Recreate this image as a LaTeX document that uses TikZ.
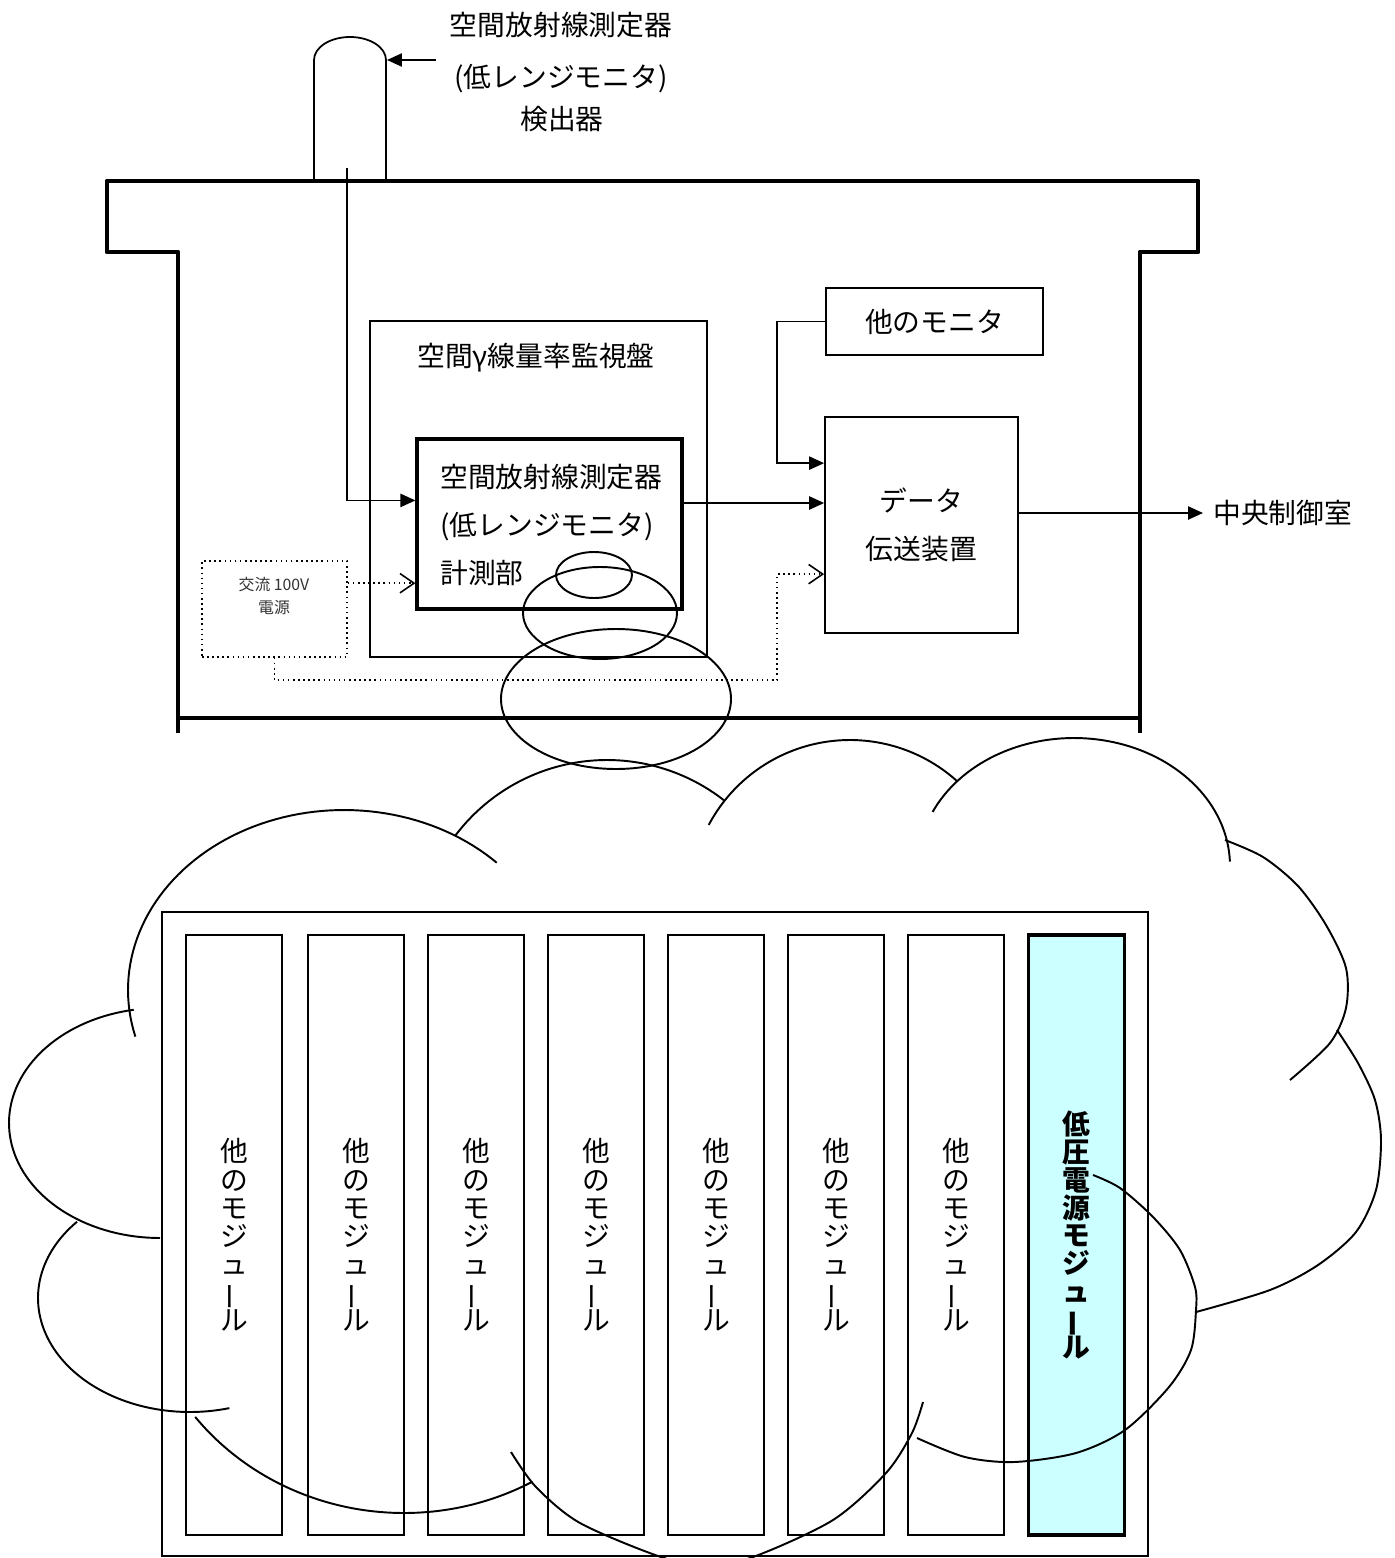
\documentclass[tikz,border=0pt]{standalone}
\usepackage{fontspec}
\setmainfont{Noto Sans CJK JP}
\usepackage{graphicx}
\usetikzlibrary{arrows.meta,calc}
\definecolor{lvcyan}{HTML}{CCFFFF}
\newcommand{\vbar}{{\smash{\rotatebox[origin=c]{90}{ー}}}}
\newcommand{\cloudarc}[6]{\draw[cloudln] plot[domain=#5:#6, samples=72, variable=\t] ({#1+#3*cos(\t)},{#2+#4*sin(\t)});}
\tikzset{
  lnthin/.style={line width=1pt},
  wall/.style={line width=2.8pt, line join=round},
  boxthin/.style={draw, line width=1pt, inner sep=0pt},
  boxthick/.style={draw, line width=1.8pt, inner sep=0pt},
  dotbox/.style={draw, dotted, line width=0.9pt, inner sep=0pt},
  dotln/.style={dotted, line width=0.9pt},
  arr/.style={line width=1pt, -{Triangle[length=8.5pt,width=7.5pt]}},
  dotarr/.style={dotln, -{Straight Barb[length=8pt,width=11pt,line width=0.9pt]}},
  cloudln/.style={line width=1.1pt},
  lbl/.style={inner sep=0pt, font=\fontsize{15.8pt}{27.4pt}\selectfont},
  smalllbl/.style={inner sep=0pt, align=center, font=\fontsize{9pt}{13pt}\selectfont, text=black!80},
  rackbox/.style={draw, line width=1.4pt, inner sep=0pt},
  modbox/.style={draw, line width=0.8pt, inner sep=0pt, minimum width=19.2mm, minimum height=120mm,
     align=center, font=\fontsize{15.8pt}{16pt}\selectfont},
  lvbox/.style={modbox, line width=2.2pt, fill=lvcyan, font=\fontsize{15.8pt}{15.9pt}\selectfont\bfseries}
}
\begin{document}
\begin{tikzpicture}[x=0.2mm,y=-0.2mm]
\useasboundingbox (0,0) rectangle (1394,1558);
\clip (0,0) rectangle (1394,1558);

% ---- enclosure ----
\draw[wall] (178,733) -- (178,252) -- (107,252) -- (107,181) -- (1198,181) -- (1198,252) -- (1140,252) -- (1140,733);
\draw[wall] (178,718) -- (1140,718);

% ---- detector ----
\draw[lnthin] (314,181) -- (314,60) arc[start angle=180,end angle=360,x radius=36,y radius=23] -- (386,181);
\coordinate (domeR) at (387,60);
\coordinate (lblarrow) at (436,60);
\draw[arr] (lblarrow) -- (domeR);
\node[lbl] (det1) at (561,25) {空間放射線測定器};
\node[lbl] (det2) at (561,79) {(低レンジモニタ)};
\node[lbl] (det3) at (562,119) {検出器};

% ---- boxes ----
\node[boxthin, minimum width=67.4mm, minimum height=67.2mm] (mon) at (538.5,489) {};
\node[lbl] (monlbl) at (536,358) {空間γ線量率監視盤};
\node[boxthick, minimum width=53mm, minimum height=34mm] (meas) at (549.5,524) {};
\node[lbl, align=left, anchor=west] (meastxt) at (440,525) {空間放射線測定器\\(低レンジモニタ)\\計測部};
\node[dotbox, minimum width=29mm, minimum height=19.2mm] (ac) at (274.5,609) {};
\node[smalllbl] (actxt) at (274,596) {交流 100V\\電源};
\node[boxthin, minimum width=43.4mm, minimum height=13.4mm, font=\fontsize{15.8pt}{27.4pt}\selectfont] (other) at (934.5,321.5) {他のモニタ};
\node[boxthin, minimum width=38.6mm, minimum height=43.2mm, align=center, font=\fontsize{15.8pt}{27.4pt}\selectfont] (data) at (921.5,525) {データ\\伝送装置};
\node[lbl, anchor=west] (ccr) at (1213,513) {中央制御室};

% ---- connectors ----
\coordinate (cabletop) at (347,168);
\draw[arr] (cabletop) |- ($(meas.north west)+(0,63)$);
\draw[arr] (meas.east |- 0,503) -- (data.west |- 0,503);
\draw[arr] (other.west) -- ++(-48,0) |- ($(data.north west)+(0,47)$);
\draw[arr] (data.east |- ccr.west) -- ([xshift=-2mm]ccr.west);
\coordinate (acout) at ($(ac.north east)+(0,23)$);
\draw[dotarr] (acout) -- (acout -| meas.west);
\coordinate (datain) at ($(data.north west)+(0,158)$);
\draw[dotarr] (ac.south) |- ($(datain)+(-47,106)$) |- (datain);

% ---- callout bubbles ----
\draw[cloudln] (594,575) ellipse[x radius=38,y radius=23];
\draw[cloudln] (600,613) ellipse[x radius=77,y radius=46];
\draw[cloudln] (616,699) ellipse[x radius=115,y radius=70];

% ---- rack and modules ----
\node[rackbox, minimum width=197.2mm, minimum height=128.8mm] (rack) at (655,1234) {};
\foreach \i/\x in {1/234,2/356,3/476,4/596,5/716,6/836,7/956}
  \node[modbox] (m\i) at (\x,1235) {他\\の\\モ\\ジ\\ュ\\\vbar\\ル};
\node[lvbox] (lv) at (1076.5,1235) {低\\圧\\電\\源\\モ\\ジ\\ュ\\\vbar\\ル};

% ---- cloud arcs ----
\cloudarc{344}{990}{216}{180}{165}{315}
\cloudarc{607}{950}{190}{190}{217}{308}
\cloudarc{850}{900}{160}{160}{208}{312}
\cloudarc{1074}{866}{156}{128}{205}{358}
\draw[cloudln] plot[smooth] coordinates {(1225,840) (1263,857) (1298,886) (1326,925) (1346,968) (1346,1008) (1330,1043) (1290,1080)};
\draw[cloudln] plot[smooth] coordinates {(1337,1030) (1358,1063) (1375,1100) (1381,1140) (1376,1190) (1356,1232) (1318,1265) (1270,1290) (1196,1312)};
\draw[cloudln] plot[smooth] coordinates {(1093,1175) (1120,1188) (1153,1217) (1180,1250) (1195,1287) (1196,1310) (1191,1350) (1169,1387) (1125,1430) (1076,1453) (1014,1462) (965,1457) (917,1438)};
\draw[cloudln] plot[smooth] coordinates {(511,1452) (536,1487) (580,1523) (661,1557) (707,1565) (753,1557) (833,1520) (886,1473) (912,1433) (923,1402)};
\cloudarc{404}{1263}{265}{250}{61}{142}
\cloudarc{190}{1298}{152}{114}{75}{222}
\cloudarc{160}{1123}{151}{115}{90}{260}
\end{tikzpicture}
\end{document}
